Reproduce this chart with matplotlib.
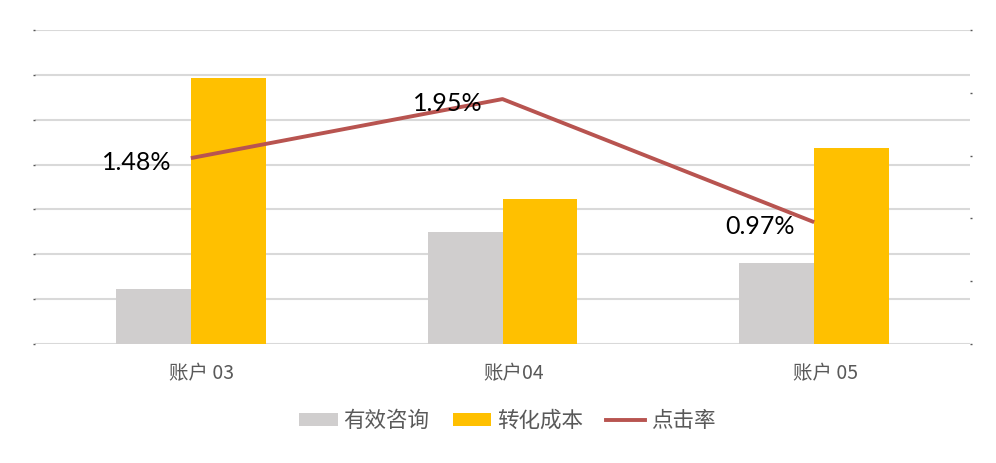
import matplotlib
matplotlib.use("Agg")
import matplotlib.pyplot as plt
import matplotlib.transforms as mtransforms
import numpy as np
from matplotlib.patches import Patch
from matplotlib.lines import Line2D

plt.rcParams['font.family'] = ['Noto Sans CJK SC', 'DejaVu Sans']

categories = ["账户 03", "账户04", "账户 05"]
consult = [122, 249, 180]        # 有效咨询
cost = [593, 324, 436]           # 转化成本
ctr = [1.48, 1.95, 0.97]         # 点击率 (%)
ctr_labels = ["1.48%", "1.95%", "0.97%"]

gray = "#D0CECE"
yellow = "#FFC000"
red = "#B85450"
grid_c = "#D9D9D9"
text_c = "#595959"

fig = plt.figure(figsize=(9.96, 4.63), dpi=100)
ax = fig.add_axes([35/996, 1-344/463, 935/996, 314/463])
x = np.arange(len(categories))
w = 0.24
ax.bar(x - w/2, consult, width=w, color=gray, zorder=2)
ax.bar(x + w/2, cost, width=w, color=yellow, zorder=2)
ax.set_xlim(-0.5, 2.5)
ax.set_ylim(0, 700)
ax.set_yticks(np.arange(0, 701, 100))
ax.yaxis.grid(True, color=grid_c, linewidth=1.5, zorder=0)
ax.set_axisbelow(True)
for s in ax.spines.values():
    s.set_visible(False)
ax.tick_params(axis='y', length=1.5, width=1, color="#555555", labelleft=False, pad=0)
ax.set_xticks(x)
ax.set_xticklabels(categories, fontsize=14, color=text_c)
ax.tick_params(axis='x', length=0, pad=14)
shift = mtransforms.ScaledTranslation(11/100, 0, fig.dpi_scale_trans)
for lbl in ax.get_xticklabels():
    lbl.set_transform(lbl.get_transform() + shift)

ax2 = ax.twinx()
ax2.set_ylim(0, 2.5)
ax2.set_yticks(np.arange(0, 2.51, 0.5))
for s in ax2.spines.values():
    s.set_visible(False)
ax2.tick_params(axis='y', length=1.5, width=1, color="#555555", labelright=False, pad=0)
ax2.plot(x, ctr, color=red, linewidth=2.8, zorder=3, solid_capstyle='butt')
for xi, yi, lab in zip(x, ctr, ctr_labels):
    ax2.annotate(lab, (xi, yi), xytext=(-14, -3), textcoords='offset points',
                 ha='right', va='center', fontsize=18, color='black',
                 family=['Lato', 'DejaVu Sans'])

handles = [Patch(facecolor=gray, edgecolor='none'),
           Patch(facecolor=yellow, edgecolor='none'),
           Line2D([0], [0], color=red, linewidth=2.8)]
labels = ["有效咨询", "转化成本", "点击率"]
leg = fig.legend(handles, labels, loc='center', bbox_to_anchor=(507/996, 1-421/463),
                 ncol=3, frameon=False, fontsize=15.5, handlelength=1.8, handleheight=0.55,
                 handletextpad=0.25, columnspacing=1.1)
for t in leg.get_texts():
    t.set_color(text_c)

fig.savefig("out.png", dpi=100)
